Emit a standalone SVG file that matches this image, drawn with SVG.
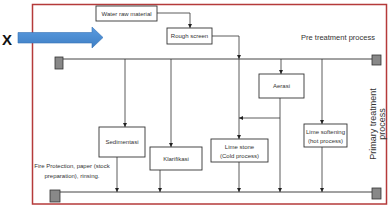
<svg xmlns="http://www.w3.org/2000/svg" width="390" height="208" viewBox="0 0 390 208">
<defs>
<style>
.box{fill:#fff;stroke:#333;stroke-width:0.9}
.t{font-family:"Liberation Sans",Arial,sans-serif;font-size:6px;fill:#333;text-anchor:middle}
.ln{fill:none;stroke:#333;stroke-width:0.8}
.bus{fill:none;stroke:#444;stroke-width:1}
.sq{fill:#888;stroke:#333;stroke-width:0.8}
</style>
<marker id="ah" viewBox="0 0 6 6" refX="6" refY="3" markerWidth="4" markerHeight="4" orient="auto" markerUnits="userSpaceOnUse">
<path d="M0,0 L6,3 L0,6 z" fill="#222"/>
</marker>
<linearGradient id="bg" x1="0" y1="0" x2="0" y2="1">
<stop offset="0" stop-color="#5a9be0"/>
<stop offset="1" stop-color="#3f7fc4"/>
</linearGradient>
</defs>
<rect width="390" height="208" fill="#fff"/>
<rect id="frame" x="32.5" y="4.5" width="354" height="199.5" fill="none" stroke="#b53a3a" stroke-width="1.5"/>

<g id="x-arrow">
<text x="7" y="45" font-family="'Liberation Sans',Arial,sans-serif" font-size="15" font-weight="bold" fill="#111" text-anchor="middle">X</text>
<path d="M18,32.5 H92 V27 L103,37.5 L92,48 V43 H18 z" fill="url(#bg)" stroke="#3672b5" stroke-width="0.6"/>
</g>

<g id="connectors">
<path class="ln" d="M157,13 H190 V28" marker-end="url(#ah)"/>
<path class="ln" d="M212,36 H239 V59" marker-end="url(#ah)"/>
<path class="bus" d="M63,59 H372"/>
<path class="bus" d="M60,192 H372"/>
<path class="ln" d="M125,59 V127" marker-end="url(#ah)"/>
<path class="ln" d="M171,59 V147" marker-end="url(#ah)"/>
<path class="ln" d="M239,59 V139" marker-end="url(#ah)"/>
<path class="ln" d="M281,59 V74" marker-end="url(#ah)"/>
<path class="ln" d="M322,59 V124" marker-end="url(#ah)"/>
<path class="ln" d="M280,98 V192" marker-end="url(#ah)"/>
<path class="ln" d="M280,118 H239" marker-end="url(#ah)"/>
<path class="ln" d="M117,157 V192" marker-end="url(#ah)"/>
<path class="ln" d="M160,170 V192" marker-end="url(#ah)"/>
<path class="ln" d="M239,162 V192" marker-end="url(#ah)"/>
<path class="ln" d="M322,147 V192" marker-end="url(#ah)"/>
</g>

<g id="squares">
<rect class="sq" x="55" y="57" width="8" height="12"/>
<rect class="sq" x="372" y="55" width="9" height="10"/>
<rect class="sq" x="50" y="190" width="10" height="12"/>
<rect class="sq" x="372" y="188" width="9" height="11"/>
</g>

<g id="water-raw-material">
<rect class="box" x="96" y="6" width="61" height="15"/>
<text class="t" x="126.5" y="15.5">Water raw material</text>
</g>
<g id="rough-screen">
<rect class="box" x="167" y="28" width="45" height="16"/>
<text class="t" x="189.5" y="38.2">Rough screen</text>
</g>
<g id="aerasi">
<rect class="box" x="259" y="74" width="45" height="24"/>
<text class="t" x="281.5" y="88">Aerasi</text>
</g>
<g id="sedimentasi">
<rect class="box" x="99" y="127" width="46" height="30"/>
<text class="t" x="122" y="144">Sedimentasi</text>
</g>
<g id="klarifikasi">
<rect class="box" x="150" y="147" width="52" height="23"/>
<text class="t" x="176" y="160.5">Klarifikasi</text>
</g>
<g id="lime-stone">
<rect class="box" x="211" y="139" width="57" height="23"/>
<text class="t" x="239.5" y="148.5">Lime stone</text>
<text class="t" x="239.5" y="157.5">(Cold process)</text>
</g>
<g id="lime-softening">
<rect class="box" x="304" y="124" width="43" height="23"/>
<text class="t" x="325.5" y="133.5">Lime softening</text>
<text class="t" x="325.5" y="142.5">(hot process)</text>
</g>

<g id="labels">
<text class="t" x="72" y="168">Fire Protection, paper (stock</text>
<text class="t" x="72" y="178">preparation), rinsing.</text>
<text class="t" x="338" y="39.5" style="font-size:7.5px">Pre treatment process</text>
<g transform="translate(376,124) rotate(-90)">
<text class="t" x="0" y="0" style="font-size:9px">Primary treatment</text>
<text class="t" x="0" y="8.5" style="font-size:9px">process</text>
</g>
</g>
</svg>
